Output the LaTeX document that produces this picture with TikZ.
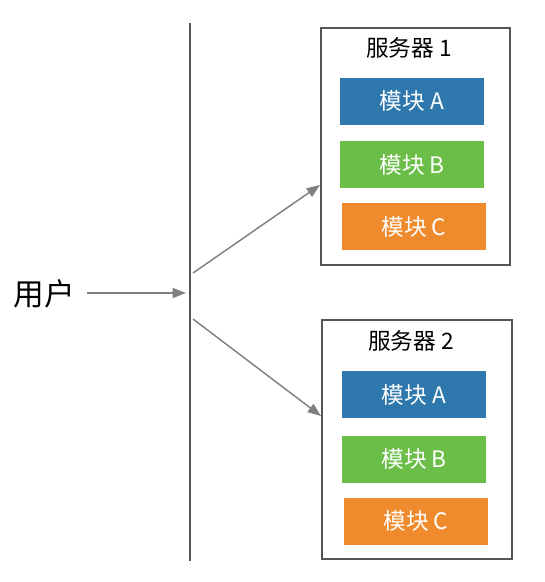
\documentclass[tikz,border=0pt]{standalone}
\usepackage{fontspec}
\setmainfont{Noto Sans CJK SC}
\usetikzlibrary{arrows.meta}

\definecolor{modblue}{HTML}{2E78AD}
\definecolor{modgreen}{HTML}{6BBE47}
\definecolor{modorange}{HTML}{F08B2D}
\definecolor{linegray}{HTML}{555555}
\definecolor{arrowgray}{HTML}{808080}

\begin{document}
\begin{tikzpicture}[
        x=0.75pt, y=-0.75pt,
        server/.style={rectangle, draw=linegray, line width=1.5pt, fill=white},
        module/.style={rectangle, text=white, minimum width=108pt, minimum height=35.25pt, font=\fontsize{17}{20}\selectfont, inner sep=0pt},
        title/.style={font=\fontsize{17}{20}\selectfont, inner sep=0pt},
        flow/.style={draw=arrowgray, line width=1.1pt, -{Triangle[length=10pt,width=7.5pt]}}
    ]

        \useasboundingbox (0,0) rectangle (544,582);

        % Servers
        \node[server, minimum width=141.75pt, minimum height=177.75pt] (srv1) at (415.5,146.5) {};
        \node[server, minimum width=142.5pt, minimum height=179.25pt] (srv2) at (417,439.5) {};

        % Server 1
        \node[title] (srv1_title) at (409,48) {服务器 1};
        \node[module, fill=modblue] (srv1_a) at (412,101) {模块 A};
        \node[module, fill=modgreen] (srv1_b) at (412,164.5) {模块 B};
        \node[module, fill=modorange] (srv1_c) at (414,226.5) {模块 C};

        % Server 2
        \node[title] (srv2_title) at (411,341) {服务器 2};
        \node[module, fill=modblue] (srv2_a) at (414,394.5) {模块 A};
        \node[module, fill=modgreen] (srv2_b) at (414,459) {模块 B};
        \node[module, fill=modorange] (srv2_c) at (416,521) {模块 C};

        % Gateway line
        \coordinate (gw_top) at (190,23);
        \coordinate (gw_bot) at (190,561);
        \draw[linegray, line width=1.5pt] (gw_top) -- (gw_bot);

        % User
        \node[font=\fontsize{23}{27}\selectfont, inner sep=0pt] (user) at (44,294) {用户};
        \coordinate (gw_in) at (186,293);
        \coordinate (gw_up) at (193,273);
        \coordinate (gw_down) at (193,319);
        \coordinate (srv1_in) at (320,185);
        \coordinate (srv2_in) at (321,416);

        \draw[flow] (user.east) ++(12,-1) coordinate (user_out) -- (gw_in);
        \draw[flow] (gw_up) -- (srv1_in);
        \draw[flow] (gw_down) -- (srv2_in);

    \end{tikzpicture}
\end{document}
